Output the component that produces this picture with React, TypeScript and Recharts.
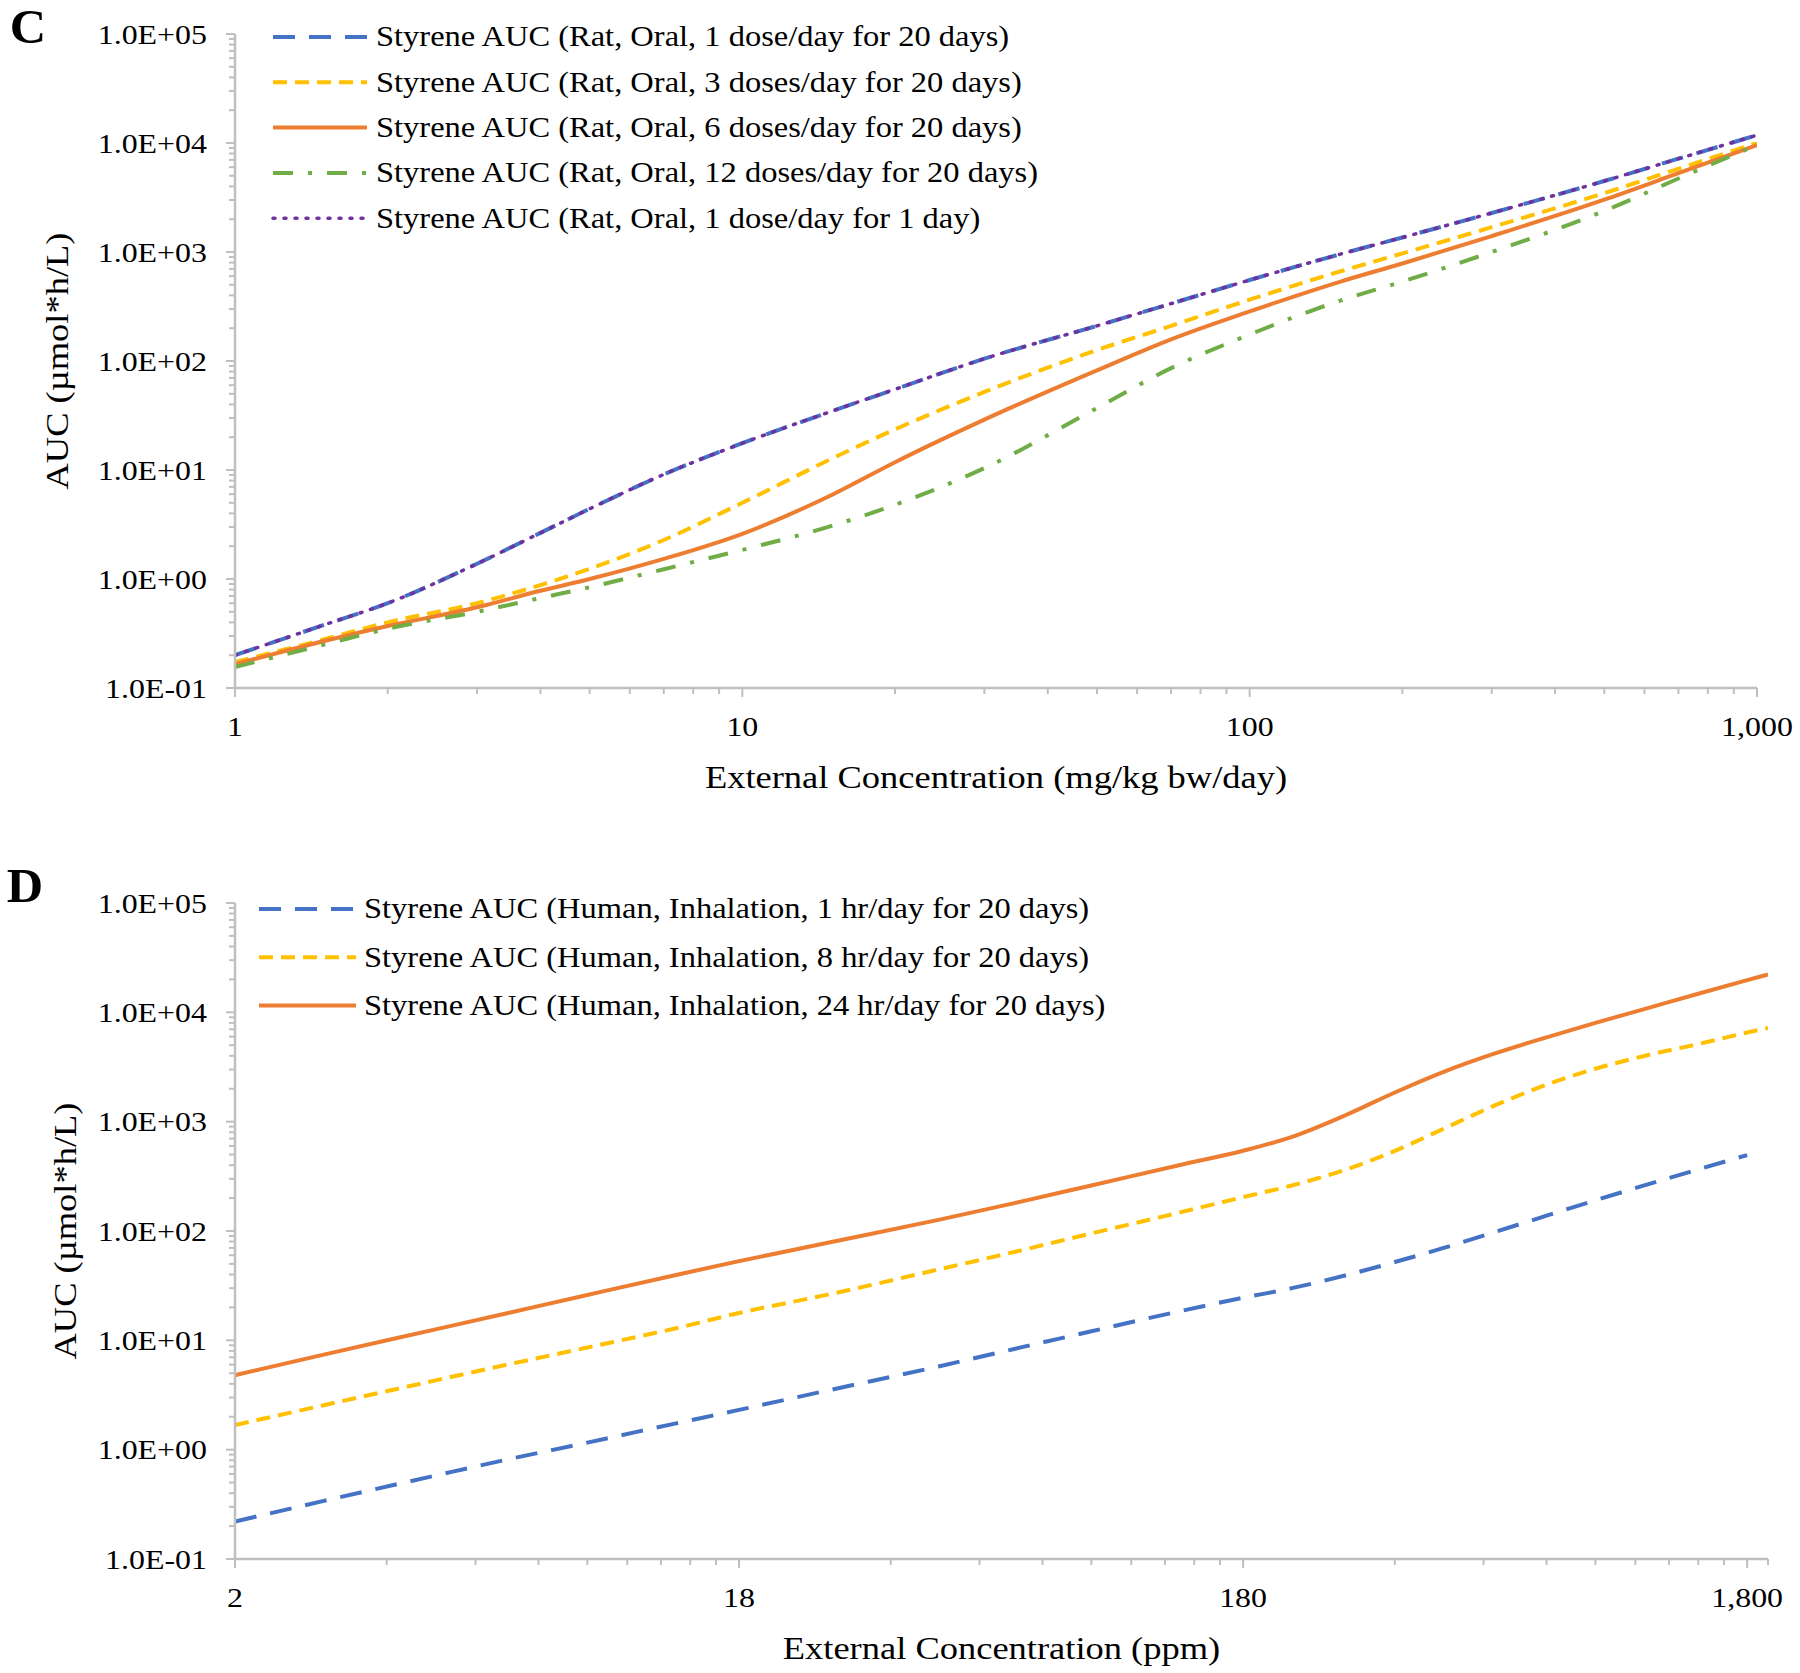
import React from 'react';
import { LineChart, Line, XAxis, YAxis, Label } from 'recharts';

const SERIF = "'Liberation Serif', 'Times New Roman', serif";
const AXIS_GREY = '#BFBFBF';
// the source figure is stretched sideways, so text is widened a little
const SX = 1.14;

// ---- panel C: rat, oral (mg/kg bw/day -> AUC µmol*h/L)
const RAT_DOSE = [1, 1.5, 2, 3, 4, 5, 7, 10, 15, 20, 30, 50, 70, 100, 150, 200, 300, 500, 700, 1000];
const RAT_1_DOSE_20D = [0.2, 0.38, 0.6, 1.38, 2.65, 4.4, 9.1, 17.6, 34.6, 55, 105, 210, 336, 553, 948, 1360, 2280, 4480, 7180, 11800];
const RAT_3_DOSES_20D = [0.173, 0.28, 0.4, 0.6, 0.88, 1.24, 2.28, 5.0, 12.7, 23.6, 52, 126, 210, 365, 659, 970, 1690, 3470, 5800, 10000];
const RAT_6_DOSES_20D = [0.165, 0.27, 0.37, 0.55, 0.78, 1.0, 1.53, 2.6, 5.9, 11.8, 29, 82, 158, 285, 530, 785, 1400, 3020, 5280, 9550];
const RAT_12_DOSES_20D = [0.156, 0.25, 0.35, 0.5, 0.67, 0.84, 1.23, 1.85, 3.07, 4.8, 10.4, 37, 86, 175, 355, 535, 1000, 2380, 4720, 9600];
const RAT_1_DOSE_1D = [0.2, 0.38, 0.6, 1.38, 2.65, 4.4, 9.1, 17.6, 34.6, 55, 105, 210, 336, 553, 948, 1360, 2280, 4480, 7180, 11800];

// ---- panel D: human, inhalation (x in axis units, the axis is labelled 2 / 18 / 180 / 1,800)
const HUMAN_CONC = [2, 3, 5, 7, 10, 15, 20, 30, 50, 70, 100, 150, 200, 250, 320, 400, 500, 630, 800, 1000, 1250, 1600, 2000, 2200];
const HUMAN_1HR = [0.22, 0.34, 0.58, 0.82, 1.16, 1.74, 2.31, 3.48, 5.8, 8.3, 12.1, 18.5, 24.5, 30, 39.4, 52, 70, 97.5, 138, 191, 261, 366, 495, null];
const HUMAN_8HR = [1.68, 2.55, 4.3, 6.05, 8.6, 12.9, 17.8, 26.2, 44.7, 64, 95, 148, 204, 261, 365, 540, 863, 1400, 2180, 3050, 3990, 5130, 6530, 7180];
const HUMAN_24HR = [4.8, 7.4, 12.6, 17.9, 26, 39.6, 53, 78, 127, 179, 261, 402, 542, 725, 1150, 1850, 2860, 4190, 5910, 8000, 10700, 14800, 19700, 22200];

// ---- axes
const AUC_TICKS = [0.1, 1, 10, 100, 1000, 10000, 100000];
const AUC_TICK_LABELS = ['1.0E-01', '1.0E+00', '1.0E+01', '1.0E+02', '1.0E+03', '1.0E+04', '1.0E+05'];
const RAT_X_TICKS = [1, 10, 100, 1000];
const RAT_X_LABELS = ['1', '10', '100', '1,000'];
const HUMAN_X_TICKS = [2, 20, 200, 2000];
const HUMAN_X_LABELS = ['2', '18', '180', '1,800'];

const RAT_SERIES = [
  { key: 'd1x20', name: 'Styrene AUC (Rat, Oral, 1 dose/day for 20 days)', values: RAT_1_DOSE_20D, color: '#4472C4', dash: '22 14', width: 4, cap: 'butt' },
  { key: 'd3x20', name: 'Styrene AUC (Rat, Oral, 3 doses/day for 20 days)', values: RAT_3_DOSES_20D, color: '#FFC000', dash: '14 8', width: 4, cap: 'butt' },
  { key: 'd6x20', name: 'Styrene AUC (Rat, Oral, 6 doses/day for 20 days)', values: RAT_6_DOSES_20D, color: '#ED7D31', dash: undefined, width: 4, cap: 'butt' },
  { key: 'd12x20', name: 'Styrene AUC (Rat, Oral, 12 doses/day for 20 days)', values: RAT_12_DOSES_20D, color: '#70AD47', dash: '20 15 4 15', width: 4, cap: 'butt' },
  { key: 'd1x1', name: 'Styrene AUC (Rat, Oral, 1 dose/day for 1 day)', values: RAT_1_DOSE_1D, color: '#7030A0', dash: '2 9', width: 3.5, cap: 'round' },
];

const HUMAN_SERIES = [
  { key: 'h1', name: 'Styrene AUC (Human, Inhalation, 1 hr/day for 20 days)', values: HUMAN_1HR, color: '#4472C4', dash: '22 14', width: 4, cap: 'butt' },
  { key: 'h8', name: 'Styrene AUC (Human, Inhalation, 8 hr/day for 20 days)', values: HUMAN_8HR, color: '#FFC000', dash: '14 8', width: 4, cap: 'butt' },
  { key: 'h24', name: 'Styrene AUC (Human, Inhalation, 24 hr/day for 20 days)', values: HUMAN_24HR, color: '#ED7D31', dash: undefined, width: 4, cap: 'butt' },
];

const ratData = RAT_DOSE.map((x, i) => {
  const row: any = { x };
  RAT_SERIES.forEach(s => { row[s.key] = s.values[i]; });
  return row;
});

const humanData = HUMAN_CONC.map((x, i) => {
  const row: any = { x };
  HUMAN_SERIES.forEach(s => { row[s.key] = s.values[i]; });
  return row;
});

// minor ticks at 2..9 times each major
const withMinors = (majors: number[], extra: number[] = []) => {
  const out: number[] = [];
  majors.forEach((m, i) => {
    out.push(m);
    if (i < majors.length - 1) {
      for (let k = 2; k <= 9; k++) out.push(m * k);
    }
  });
  return [...out, ...extra].sort((a, b) => a - b);
};

const majorIndex = (v: number, majors: number[]) =>
  majors.findIndex(m => Math.abs(m - v) / m < 1e-6);

// stretched serif text
const SText = ({ x, y, size, anchor = 'start', bold = false, rotate = false, sx = SX, baseline = 'central', children }: any) => (
  <text
    transform={`translate(${x},${y})${rotate ? ' rotate(-90)' : ''} scale(${sx},1)`}
    fontSize={size}
    fontFamily={SERIF}
    fontWeight={bold ? 'bold' : 'normal'}
    textAnchor={anchor}
    dominantBaseline={baseline}
    fill="#000"
  >
    {children}
  </text>
);

const YTick = (props: any) => {
  const { x, y, payload } = props;
  const idx = majorIndex(payload.value, AUC_TICKS);
  return (
    <g>
      <line x1={x - (idx >= 0 ? 9 : 6)} x2={x} y1={y} y2={y} stroke={AXIS_GREY} strokeWidth={2} />
      {idx >= 0 && <SText x={x - 28} y={y} size={28} anchor="end">{AUC_TICK_LABELS[idx]}</SText>}
    </g>
  );
};

const makeXTick = (majors: number[], labels: string[]) => (props: any) => {
  const { x, y, payload } = props;
  const idx = majorIndex(payload.value, majors);
  return (
    <g>
      <line x1={x} x2={x} y1={y} y2={y + (idx >= 0 ? 9 : 6)} stroke={AXIS_GREY} strokeWidth={2} />
      {idx >= 0 && <SText x={x} y={y + 38} size={28} anchor="middle">{labels[idx]}</SText>}
    </g>
  );
};

const xTitle = (text: string) => (p: any) => {
  const vb = p.viewBox || {};
  return <SText x={vb.x + vb.width / 2} y={vb.y + 89} size={32} sx={1.14} anchor="middle">{text}</SText>;
};

const yTitle = (text: string, cx: number) => (p: any) => {
  const vb = p.viewBox || {};
  return <SText x={cx} y={vb.y + vb.height / 2} size={32} sx={1.14} anchor="middle" rotate>{text}</SText>;
};

const LegendBox = ({ series, top, step, lineX1, lineX2, textX }: any) => (
  <>
    {series.map((s: any, i: number) => {
      const cy = top + i * step;
      return (
        <g key={s.key}>
          <line x1={lineX1} x2={lineX2} y1={cy} y2={cy} stroke={s.color} strokeWidth={s.width}
            strokeDasharray={s.dash} strokeLinecap={s.cap} />
          <SText x={textX} y={cy} size={28.5}>{s.name}</SText>
        </g>
      );
    })}
  </>
);

const axisLineStyle = { stroke: AXIS_GREY, strokeWidth: 2.5 };

const App: React.FC = () => {
  const aucTicks = withMinors(AUC_TICKS);
  const ratTicks = withMinors(RAT_X_TICKS);
  const humanTicks = withMinors(HUMAN_X_TICKS, [2200]);

  return (
    <div style={{ position: 'absolute', left: 0, top: 0, width: 1800, height: 1673, background: '#fff' }}>
      {/* C */}
      <div style={{ position: 'absolute', left: 0, top: 0, width: 1800, height: 800 }}>
        <LineChart width={1800} height={798} data={ratData} margin={{ top: 34, right: 43, bottom: 0, left: 0 }}>
          <XAxis dataKey="x" type="number" scale="log" domain={[1, 1000]} ticks={ratTicks} interval={0}
            axisLine={axisLineStyle} tickLine={false} tickSize={0} tickMargin={0} height={110}
            tick={makeXTick(RAT_X_TICKS, RAT_X_LABELS)} allowDataOverflow>
            <Label content={xTitle('External Concentration (mg/kg bw/day)')} />
          </XAxis>
          <YAxis type="number" scale="log" domain={[0.1, 100000]} ticks={aucTicks} interval={0}
            axisLine={axisLineStyle} tickLine={false} tickSize={0} tickMargin={0} width={235}
            tick={YTick} allowDataOverflow>
            <Label content={yTitle('AUC (µmol*h/L)', 57)} />
          </YAxis>
          {RAT_SERIES.map(s => (
            <Line key={s.key} dataKey={s.key} type="monotone" stroke={s.color} strokeWidth={s.width}
              strokeDasharray={s.dash} strokeLinecap={s.cap as any} dot={false} activeDot={false}
              isAnimationActive={false} />
          ))}
        </LineChart>
        <svg width={1800} height={800} style={{ position: 'absolute', left: 0, top: 0, pointerEvents: 'none' }}>
          <SText x={28} y={43} size={48} bold sx={1.05} anchor="middle" baseline="alphabetic">C</SText>
          <LegendBox series={RAT_SERIES} top={37} step={45.3} lineX1={273} lineX2={367} textX={376} />
        </svg>
      </div>

      {/* D */}
      <div style={{ position: 'absolute', left: 0, top: 850, width: 1800, height: 823 }}>
        <LineChart width={1800} height={823} data={humanData} margin={{ top: 53, right: 32, bottom: 0, left: 0 }}>
          <XAxis dataKey="x" type="number" scale="log" domain={[2, 2200]} ticks={humanTicks} interval={0}
            axisLine={axisLineStyle} tickLine={false} tickSize={0} tickMargin={0} height={114}
            tick={makeXTick(HUMAN_X_TICKS, HUMAN_X_LABELS)} allowDataOverflow>
            <Label content={xTitle('External Concentration (ppm)')} />
          </XAxis>
          <YAxis type="number" scale="log" domain={[0.1, 100000]} ticks={aucTicks} interval={0}
            axisLine={axisLineStyle} tickLine={false} tickSize={0} tickMargin={0} width={235}
            tick={YTick} allowDataOverflow>
            <Label content={yTitle('AUC (µmol*h/L)', 65)} />
          </YAxis>
          {HUMAN_SERIES.map(s => (
            <Line key={s.key} dataKey={s.key} type="monotone" stroke={s.color} strokeWidth={s.width}
              strokeDasharray={s.dash} strokeLinecap={s.cap as any} dot={false} activeDot={false}
              isAnimationActive={false} />
          ))}
        </LineChart>
        <svg width={1800} height={823} style={{ position: 'absolute', left: 0, top: 0, pointerEvents: 'none' }}>
          <SText x={25} y={52} size={48} bold sx={1.05} anchor="middle" baseline="alphabetic">D</SText>
          <LegendBox series={HUMAN_SERIES} top={59} step={48.3} lineX1={259} lineX2={356} textX={364} />
        </svg>
      </div>
    </div>
  );
};

export default App;
